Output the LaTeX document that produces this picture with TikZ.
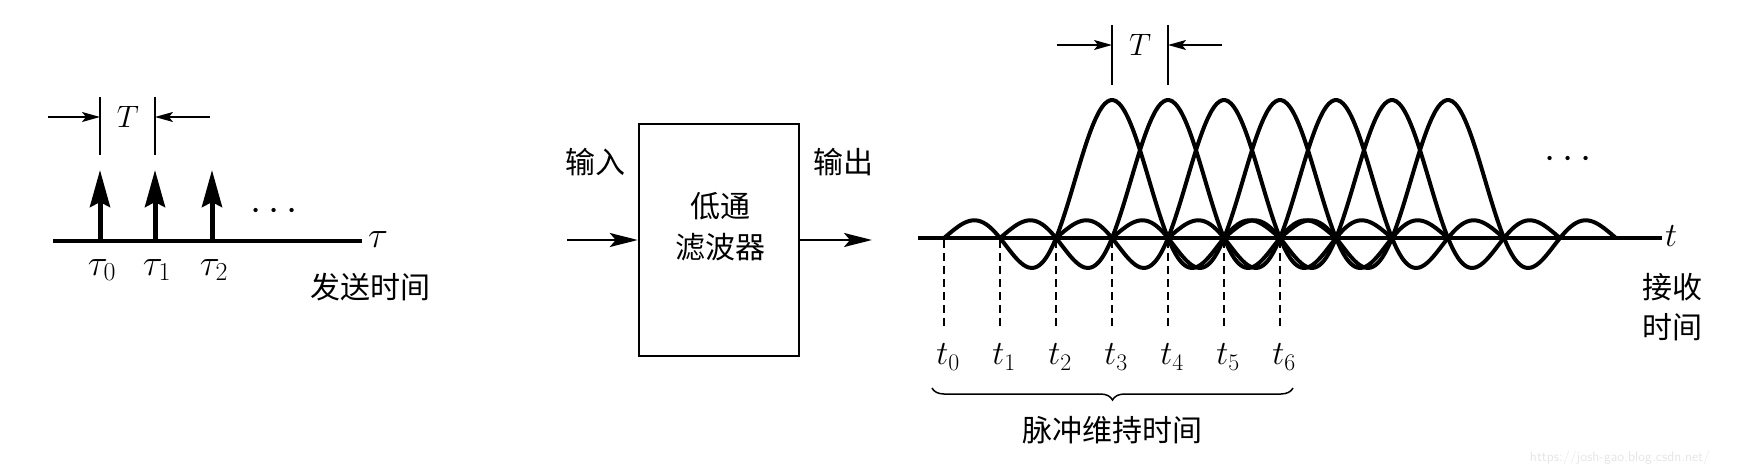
\RequirePackage{fix-cm}
\documentclass[tikz,border=0pt]{standalone}
\usepackage{fontspec}
\newfontfamily\cjk{Noto Sans CJK SC}
\usetikzlibrary{arrows.meta,decorations.pathreplacing}
\begin{document}
\begin{tikzpicture}[x=1pt,y=-1pt,
  cn/.style={font=\cjk\fontsize{30}{34}\selectfont, inner sep=0pt},
  mth/.style={font=\fontsize{37}{40}\selectfont, inner sep=0pt},
  tlab/.style={font=\fontsize{34}{38}\selectfont, inner sep=0pt},
  Tlab/.style={font=\fontsize{31}{34}\selectfont, inner sep=0pt},
  axisline/.style={line width=3.5pt},
  impulse/.style={line width=5pt, -{Stealth[length=37pt,width=20pt,inset=5pt]}},
  dimline/.style={line width=1.5pt},
  dimarrow/.style={line width=1.5pt, -{Stealth[length=18pt,width=10pt,inset=4pt]}},
  ioarrow/.style={line width=2.5pt, -{Stealth[length=28pt,width=14pt,inset=6pt]}},
  filterbox/.style={draw, line width=2.5pt, minimum width=160pt, minimum height=232pt, inner sep=0pt},
  pulse/.style={line width=4pt, line join=round, line cap=round},
  guide/.style={line width=1.5pt, dash pattern=on 8pt off 5pt},
  bracestyle/.style={line width=1.5pt, decorate, decoration={brace, mirror, amplitude=12pt}},
  dotsnode/.style={font=\fontsize{40}{40}\selectfont, inner sep=0pt},
]
\useasboundingbox (0,0) rectangle (1737,476);

% ---------- left: sent impulses ----------
\coordinate (aL) at (53,241);
\coordinate (aR) at (362,241);
\draw[axisline] (aL) -- (aR);
\node[mth, anchor=west] (tau) at (368,240) {$\tau$};
\foreach \i/\xx in {0/100,1/155,2/212}{
  \coordinate (b\i) at (\xx,241);
  \coordinate (p\i) at (\xx,170);
  \draw[impulse] (b\i) -- (p\i);
  \node[mth] (tl\i) at (\xx+2,270) {$\tau_\i$};
}
\node[dotsnode] (dotsL) at (274,212) {$\cdots$};
% T dimension
\coordinate (vl1a) at (100,97); \coordinate (vl1b) at (100,155);
\coordinate (vl2a) at (155,97); \coordinate (vl2b) at (155,155);
\draw[dimline] (vl1a) -- (vl1b);
\draw[dimline] (vl2a) -- (vl2b);
\coordinate (dl1) at (48,117); \coordinate (dl1e) at (100,117);
\coordinate (dl2) at (210,117); \coordinate (dl2e) at (155,117);
\draw[dimarrow] (dl1) -- (dl1e);
\draw[dimarrow] (dl2) -- (dl2e);
\node[Tlab] (TL) at (128,117) {$T$};
\node[cn] (send) at (370,287) {发送时间};

% ---------- middle: filter ----------
\node[filterbox] (box) at (719,240) {};
\node[cn] (f1) at (720,206) {低通};
\node[cn] (f2) at (720,247) {滤波器};
\node[cn] (inlab) at (595,162) {输入};
\node[cn] (outlab) at (843,162) {输出};
\coordinate (inL) at (567,240);
\coordinate (outR) at (872,240);
\draw[ioarrow] (inL) -- (box.west);
\draw[ioarrow] (box.east) -- (outR);

% ---------- right: received pulses ----------
\coordinate (rL) at (918,238);
\coordinate (rR) at (1662,238);
\draw[axisline] (rL) -- (rR);
\node[tlab, anchor=west] (tax) at (1665,236) {$t$};
\foreach \k in {0,...,6}{
  \pgfmathsetmacro{\p}{1112+56*\k}
  \draw[pulse] plot[domain=-3:3, samples=120, smooth] ({\p+56*\x},{238-138*sin(180*\x)/(3.14159*\x)});
}
\foreach \i in {0,...,6}{
  \pgfmathsetmacro{\tx}{944+56*\i}
  \coordinate (g\i a) at (\tx,240);
  \coordinate (g\i b) at (\tx,328);
  \draw[guide] (g\i a) -- (g\i b);
  \node[tlab] (tl\i r) at (\tx+4,357) {$t_\i$};
}
\coordinate (brL) at (932,388);
\coordinate (brR) at (1293,388);
\draw[bracestyle] (brL) -- (brR);
\node[cn] (dur) at (1112,430) {脉冲维持时间};
\node[dotsnode] (dotsR) at (1568,160) {$\cdots$};
\node[cn] (recv1) at (1672,287) {接收};
\node[cn] (recv2) at (1672,327) {时间};
% T dimension right
\coordinate (vr1a) at (1112,25); \coordinate (vr1b) at (1112,85);
\coordinate (vr2a) at (1168,25); \coordinate (vr2b) at (1168,85);
\draw[dimline] (vr1a) -- (vr1b);
\draw[dimline] (vr2a) -- (vr2b);
\coordinate (dr1) at (1057,45); \coordinate (dr1e) at (1112,45);
\coordinate (dr2) at (1222,45); \coordinate (dr2e) at (1168,45);
\draw[dimarrow] (dr1) -- (dr1e);
\draw[dimarrow] (dr2) -- (dr2e);
\node[Tlab] (TR) at (1140,45) {$T$};

% watermark
\node[font=\sffamily\fontsize{14}{16}\selectfont, text=black!10, inner sep=0pt] (wm) at (1620,458) {https://josh-gao.blog.csdn.net/};
\end{tikzpicture}
\end{document}
